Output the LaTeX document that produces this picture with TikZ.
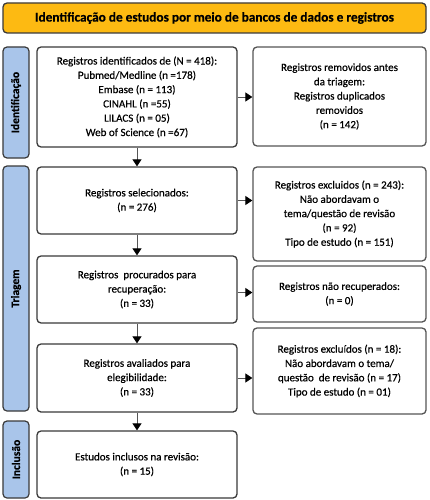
\documentclass[tikz,border=0pt]{standalone}
\usepackage{fontspec}
\setmainfont{Carlito}[RawFeature={embolden=0.5}]
\usetikzlibrary{arrows.meta,calc}
\definecolor{bannerY}{HTML}{FDBA12}
\definecolor{sideB}{HTML}{A9C5EA}
\definecolor{edgeD}{HTML}{3A3A3A}
\definecolor{edgeG}{HTML}{555555}
\begin{document}
\begin{tikzpicture}[x=1pt,y=-1pt,
  txt/.style={font=\fontsize{11}{14.3}\selectfont, align=center, inner sep=0pt},
  lbox/.style={txt, draw=edgeD, line width=1.3pt, rounded corners=4pt, fill=white, minimum width=200pt},
  rbox/.style={txt, draw=edgeG, line width=1.3pt, rounded corners=4pt, fill=white, minimum width=173pt},
  side/.style={draw=edgeD, line width=1.2pt, rounded corners=4pt, fill=sideB, minimum width=26pt, inner sep=0pt},
  sidetxt/.style={font=\fontsize{11.5}{12}\bfseries\selectfont, rotate=90},
  flow/.style={draw=edgeG, line width=0.9pt, -{Triangle[width=9pt,length=7pt,color=black]}}
]
\useasboundingbox (0,0) rectangle (429,500);
\fill[white] (0,0) rectangle (429,500);

\node[draw=edgeD, line width=1.3pt, rounded corners=4pt, fill=bannerY, minimum width=423pt, minimum height=30pt, inner sep=0pt,
  font=\fontsize{13.3}{14}\bfseries\selectfont] (banner) at (214.5,18) {Identificação de estudos por meio de bancos de dados e registros};

\node[side, minimum height=111pt] (s1) at (16,102.5) {};
\node[sidetxt] (s1t) at (s1.center) {Identificação};
\node[side, minimum height=245pt] (s2) at (16,288.5) {};
\node[sidetxt] (s2t) at (s2.center) {Triagem};
\node[side, minimum height=77pt] (s3) at (16,459.5) {};
\node[sidetxt] (s3t) at (s3.center) {Inclusão};

\node[lbox, minimum height=100pt] (b1) at (137,97) {Registros identificados de (N = 418):\\Pubmed/Medline (n =178)\\Embase (n = 113)\\CINAHL (n =55)\\LILACS (n = 05)\\Web of Science (n =67)};
\node[lbox, minimum height=67pt] (b2) at (137,200.5) {Registros selecionados:\\(n = 276)};
\node[lbox, minimum height=67pt] (b3) at (137,289.5) {Registros\ \ procurados para\\recuperação:\\(n = 33)};
\node[lbox, minimum height=68pt] (b4) at (137,378) {Registros avaliados para\\elegibilidade:\\(n = 33)};
\node[lbox, minimum height=67pt] (b5) at (137,464.5) {Estudos inclusos na revisão:\\(n = 15)};

\node[rbox, minimum height=99pt] (r1) at (339.5,96.5) {Registros removidos antes\\da triagem:\\Registros duplicados\\removidos\\(n = 142)};
\node[rbox, minimum height=94pt] (r2) at (339.5,214) {Registros excluidos (n = 243):\\Não abordavam o\\tema/questão de revisão\\(n = 92)\\Tipo de estudo (n = 151)};
\node[rbox, minimum height=56pt] (r3) at (339.5,294) {Registros não recuperados:\\(n = 0)};
\node[rbox, minimum height=86pt] (r4) at (339.5,371) {Registros excluídos (n = 18):\\Não abordavam o tema/\\questão\ \ de revisão (n = 17)\\Tipo de estudo (n = 01)};

\draw[flow] (b1.south) -- (b2.north);
\draw[flow] (b2.south) -- (b3.north);
\draw[flow] (b3.south) -- (b4.north);
\draw[flow] (b4.south) -- (b5.north);

\draw[flow] (b1.east) -- (b1.east -| r1.west);
\draw[flow] (b2.east) -- (b2.east -| r2.west);
\draw[flow] ($(b3.east)+(0,3)$) coordinate (b3e) -- (b3e -| r3.west);
\draw[flow] (b4.east) -- (b4.east -| r4.west);
\end{tikzpicture}
\end{document}
